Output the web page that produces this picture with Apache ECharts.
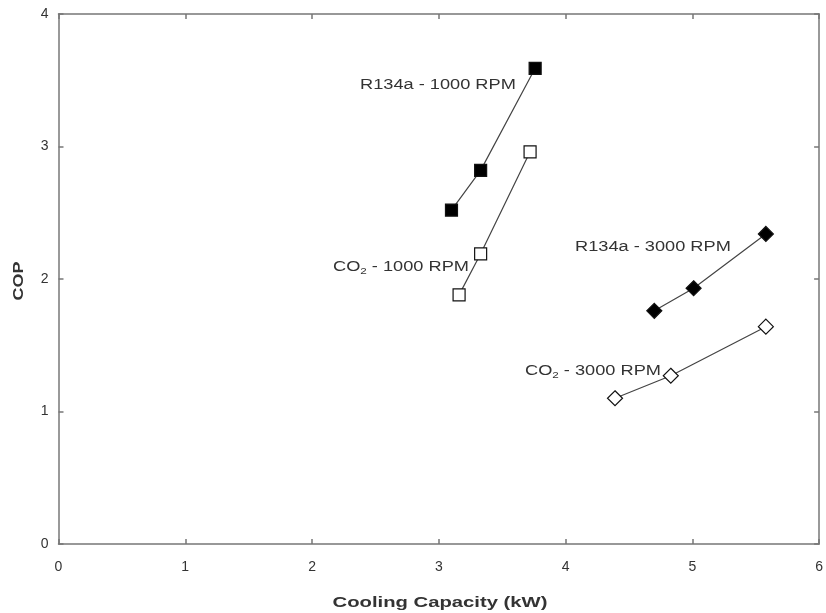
<!DOCTYPE html>
<html><head><meta charset="utf-8">
<script src="https://cdn.jsdelivr.net/npm/echarts@6/dist/echarts.min.js"></script>
<style>html,body{margin:0;padding:0;background:#fff}#c{width:826px;height:613px}</style>
</head><body><div id="c"></div>
<script>
const xTicks = [0, 1, 2, 3, 4, 5, 6];
const yTicks = [0, 1, 2, 3, 4];
const r134a1000 = [[3.10, 2.52], [3.33, 2.82], [3.76, 3.59]];
const co21000 = [[3.16, 1.88], [3.33, 2.19], [3.72, 2.96]];
const r134a3000 = [[4.70, 1.76], [5.01, 1.93], [5.58, 2.34]];
const co23000 = [[4.39, 1.10], [4.83, 1.27], [5.58, 1.64]];

const chart = echarts.init(document.getElementById('c'));
const axisCol = '#777';
const lineCol = '#444';
const txtCol = '#333';
function ser(name, data, symbol, size, filled) {
  return {
    name, type: 'line', data, symbol, symbolSize: size,
    lineStyle: {color: lineCol, width: 1.2},
    itemStyle: {color: filled ? '#000' : '#fff', borderColor: '#111', borderWidth: 1.2},
    emphasis: {disabled: true}, z: 5
  };
}
function axis(extra) {
  return Object.assign({
    type: 'value', min: 0, interval: 1,
    axisLine: {show: true, onZero: false, lineStyle: {color: axisCol, width: 1.5}},
    axisTick: {show: true, inside: true, length: 5, lineStyle: {color: axisCol, width: 1.5}},
    splitLine: {show: false},
    axisLabel: {color: txtCol, fontFamily: 'Liberation Sans', fontSize: 14, margin: 10}
  }, extra);
}
const lab = '14px "Liberation Sans"';
function label(x, y, text) {
  return {type: 'text', x, y, scaleX: 1.3, z: 10,
    style: {text, fill: txtCol, font: lab, verticalAlign: 'middle'}};
}
function coLabel(x, y, rest) {
  return {type: 'text', x, y, scaleX: 1.3, z: 10,
    style: {text: '{a|CO}{s|2}{a|' + rest + '}', verticalAlign: 'middle',
      rich: {a: {fill: txtCol, font: lab}, s: {fill: txtCol, font: '9px "Liberation Sans"', padding: [9, 0, 0, 0]}}}};
}
chart.setOption({
  animation: false,
  grid: {left: 58.5, right: 6, top: 14, bottom: 69},
  xAxis: [
    axis({max: 6, position: 'bottom', axisLabel: {color: txtCol, fontFamily: 'Liberation Sans', fontSize: 14, margin: 16}}),
    axis({max: 6, position: 'top', axisLabel: {show: false}})
  ],
  yAxis: [
    axis({max: 4, position: 'left'}),
    axis({max: 4, position: 'right', axisLabel: {show: false}})
  ],
  series: [
    ser('R134a - 1000 RPM', r134a1000, 'rect', 12, true),
    ser('CO2 - 1000 RPM', co21000, 'rect', 12, false),
    ser('R134a - 3000 RPM', r134a3000, 'diamond', 15, true),
    ser('CO2 - 3000 RPM', co23000, 'diamond', 15, false)
  ],
  graphic: [
    label(360, 85, 'R134a - 1000 RPM'),
    label(575, 247, 'R134a - 3000 RPM'),
    coLabel(333, 267, ' - 1000 RPM'),
    coLabel(525, 371, ' - 3000 RPM'),
    {type: 'text', x: 440, y: 603, scaleX: 1.35,
      style: {text: 'Cooling Capacity (kW)', fill: txtCol, font: 'bold 15px "Liberation Sans"', align: 'center', verticalAlign: 'middle'}},
    {type: 'text', x: 19, y: 281, rotation: Math.PI / 2, scaleX: 1.2,
      style: {text: 'COP', fill: txtCol, font: 'bold 15px "Liberation Sans"', align: 'center', verticalAlign: 'middle'}}
  ]
});
</script></body></html>
